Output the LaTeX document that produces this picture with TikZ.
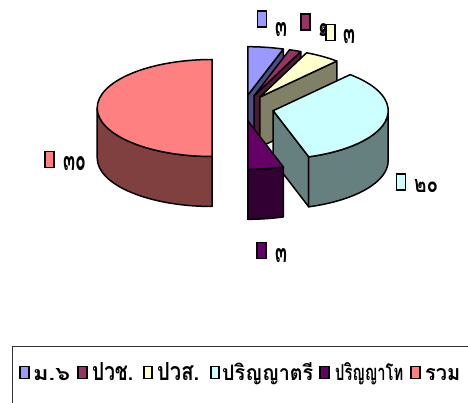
\documentclass[tikz,border=0pt]{standalone}
\usepackage{fontspec}
\usepackage{graphicx}
\newfontfamily\thai[Script=Thai]{Loma}
\usetikzlibrary{calc}
\definecolor{cA}{HTML}{9999FF}\definecolor{cAs}{HTML}{4D4D80}
\definecolor{cB}{HTML}{993366}\definecolor{cBs}{HTML}{4D1A33}
\definecolor{cC}{HTML}{FFFFCC}\definecolor{cCs}{HTML}{808066}
\definecolor{cD}{HTML}{CCFFFF}\definecolor{cDs}{HTML}{668080}
\definecolor{cE}{HTML}{660066}\definecolor{cEs}{HTML}{330033}
\definecolor{cF}{HTML}{FF8080}\definecolor{cFs}{HTML}{804040}
\newcommand\radface[3]{\filldraw[edge,fill=#3] (#1) -- ($(#1)+(#2:115pt and 48.5pt)$) -- ($(#1)+(#2:115pt and 48.5pt)+(0,-50)$) -- ($(#1)+(0,-50)$) -- cycle;}
\newcommand\topface[4]{\filldraw[edge,fill=#4] (#1) -- ($(#1)+(#2:115pt and 48.5pt)$) arc[start angle=#2, end angle=#3, x radius=115pt, y radius=48.5pt] -- cycle;}
\newcommand\wallface[4]{\filldraw[edge,fill=#4] ($(#1)+(#2:115pt and 48.5pt)$) arc[start angle=#2, end angle=#3, x radius=115pt, y radius=48.5pt] -- ++(0,-50) arc[start angle=#3, end angle=#2, x radius=115pt, y radius=48.5pt] -- cycle;}
\newcommand\fitwh[3]{\resizebox{#1}{#2}{#3}}
\begin{document}
\begin{tikzpicture}[x=1pt,y=1pt,
  edge/.style={draw=black,line width=1.5pt,line join=round},
  lkey/.style={rectangle,draw=black,line width=1.7pt,minimum width=8.5pt,minimum height=12pt,inner sep=0pt},
  dkey/.style={rectangle,draw=black,line width=1.8pt,minimum width=9pt,minimum height=16pt,inner sep=0pt},
  ltext/.style={anchor=base west,inner sep=0pt,font=\thai\bfseries\fontsize{20}{20}\selectfont},
  dtext/.style={anchor=base west,inner sep=0pt,font=\thai\bfseries\fontsize{20}{20}\selectfont}]
\useasboundingbox (0,0) rectangle (468,403);
\clip (0,0) rectangle (468,403);
\fill[white] (0,0) rectangle (468,403);
% slice centres
\coordinate (P1) at (247.8,307.8);
\coordinate (P2) at (254.0,307.1);
\coordinate (P3) at (259.8,305.9);
\coordinate (P4) at (273.2,292.3);
\coordinate (P5) at (247.8,282.2);
\coordinate (P6) at (212.2,295);
% total
\wallface{P6}{180}{270}{cFs}
\topface{P6}{90}{270}{cF}
% m.6
\radface{P1}{72}{cAs}
\topface{P1}{90}{72}{cA}
% pwch
\radface{P2}{66}{cBs}
\topface{P2}{72}{66}{cB}
% pws
\radface{P3}{48}{cCs}
\topface{P3}{66}{48}{cC}
% bachelor
\radface{P4}{-72}{cDs}
\wallface{P4}{0}{-72}{cDs}
\topface{P4}{48}{-72}{cD}
% master
\wallface{P5}{-72}{-90}{cEs}
\topface{P5}{-72}{-90}{cE}
% data labels
\node[dkey,fill=cA] (k1) at (262,384) {};
\node[dtext] (t1) at (275,366) {\fitwh{12pt}{14pt}{๓}};
\node[dkey,fill=cB] (k2) at (305.5,381) {};
\node[dtext] (t2) at (318,366) {\fitwh{11pt}{13pt}{๑}};
\node[dkey,fill=cC] (k3) at (330.5,370.5) {};
\node[dtext] (t3) at (343,359) {\fitwh{12pt}{14pt}{๓}};
\node[dkey,fill=cD] (k4) at (401,221) {};
\node[dtext] (t4) at (414,210) {\fitwh{24pt}{13pt}{๒๐}};
\node[dkey,fill=cE] (k5) at (261.5,152.5) {};
\node[dtext] (t5) at (275,140) {\fitwh{12pt}{14pt}{๓}};
\node[dkey,fill=cF] (k6) at (49.5,243.5) {};
\node[dtext] (t6) at (63,232) {\fitwh{23pt}{14pt}{๓๐}};
% legend
\draw[black!80,line width=0.9pt] (12,-5) -- (12,57) -- (475,57);
\node[lkey,fill=cA] (l1) at (24.5,30.5) {};
\node[ltext] (m1) at (33,22) {\fitwh{37pt}{12pt}{ม.๖}};
\node[lkey,fill=cB] (l2) at (82.5,30.5) {};
\node[ltext] (m2) at (92,22) {\fitwh{41pt}{18pt}{ปวช.}};
\node[lkey,fill=cC] (l3) at (148,30.5) {};
\node[ltext] (m3) at (157,22) {\fitwh{42pt}{18pt}{ปวส.}};
\node[lkey,fill=cD] (l4) at (215,30.5) {};
\node[ltext] (m4) at (222,22) {\fitwh{91pt}{18pt}{ปริญญาตรี}};
\node[lkey,fill=cE] (l5) at (324.5,30.5) {};
\node[ltext] (m5) at (335,22) {\fitwh{68pt}{18pt}{ปริญญาโท}};
\node[lkey,fill=cF] (l6) at (415.5,30.5) {};
\node[ltext] (m6) at (425,22) {\fitwh{35pt}{12pt}{รวม}};
\end{tikzpicture}
\end{document}
